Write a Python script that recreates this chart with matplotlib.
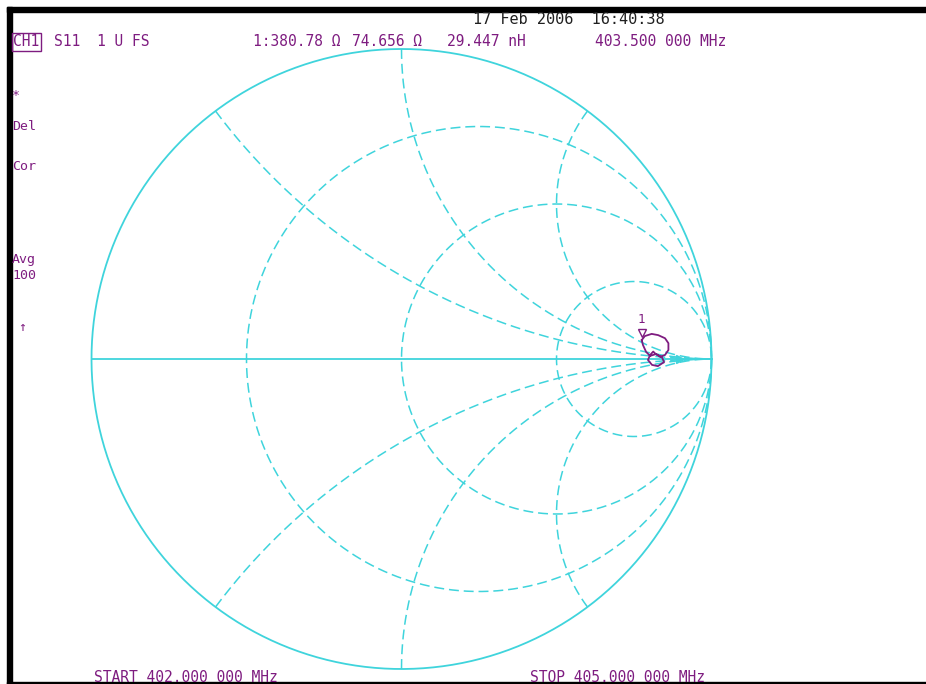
import matplotlib
matplotlib.use('Agg')
import matplotlib.pyplot as plt
import numpy as np

# grid of the smith chart (normalised r and x values)
r_circles = [1/3, 1, 3]
x_arcs = [0.5, 1, 2]

# S11 trace (re, im)
trace_re = [0.775, 0.785, 0.807, 0.828, 0.850, 0.861, 0.861, 0.850, 0.834, 0.818,
            0.812, 0.802, 0.795, 0.808, 0.827, 0.847, 0.840, 0.821, 0.802, 0.789,
            0.779, 0.775]
trace_im = [0.061, 0.074, 0.081, 0.077, 0.067, 0.051, 0.029, 0.013, 0.007, 0.018,
            0.024, 0.013, -0.003, -0.019, -0.023, -0.010, 0.006, 0.016, 0.010, 0.023,
            0.045, 0.061]
marker_re, marker_im = 0.775, 0.061
ref_re, ref_im = 0.898, 0.0

header_date = '17 Feb 2006  16:40:38'
header_items = [('S11', 54), ('1 U FS', 97), ('1:380.78 \u03a9', 253),
                ('74.656 \u03a9', 352), ('29.447 nH', 447), ('403.500 000 MHz', 595)]
side_labels = [('*', 95), ('Del', 126), ('Cor', 167), ('Avg', 259), ('100', 276)]
start_label = 'START 402.000 000 MHz'
stop_label = 'STOP 405.000 000 MHz'

cyan = '#3fd4dc'
purple = '#7e1c80'

W, H = 926, 684
cx, cy, R = 401.5, 359, 310

fig = plt.figure(figsize=(W / 100, H / 100), dpi=100)
fig.patch.set_facecolor('white')
ax = fig.add_axes([0, 0, 1, 1])
ax.set_xlim(-cx / R, (W - cx) / R)
ax.set_ylim((cy - H) / R, cy / R)
ax.axis('off')


def gamma(z):
    return (z - 1) / (z + 1)


dash = (0, (6.5, 3.2))
t = np.linspace(0, 2 * np.pi, 600)
ax.plot(np.cos(t), np.sin(t), color=cyan, lw=1.3)
ax.plot([-1, 1], [0, 0], color=cyan, lw=1.3)

for r in r_circles:
    xs = np.tan(np.linspace(-np.pi / 2 + 1e-4, np.pi / 2 - 1e-4, 800))
    g = gamma(r + 1j * xs)
    ax.plot(g.real, g.imag, color=cyan, lw=1.1, linestyle=dash)

for x in x_arcs:
    rs = np.tan(np.linspace(0, np.pi / 2 - 1e-4, 600))
    for s in (1, -1):
        g = gamma(rs + 1j * s * x)
        ax.plot(g.real, g.imag, color=cyan, lw=1.1, linestyle=dash)

ax.plot(ref_re, ref_im, marker='>', color=cyan, markersize=6)

ax.plot(trace_re, trace_im, color=purple, lw=1.3)
ax.plot(marker_re, marker_im + 0.022, marker='v', markersize=6, mfc='none',
        mec=purple, mew=1.0)
ax.text(marker_re, marker_im + 0.045, '1', color=purple, fontsize=9,
        family='DejaVu Sans Mono', ha='center', va='bottom')

# texts in pixel positions
mono = dict(family='DejaVu Sans Mono', fontsize=10.5, color=purple, va='center')
side = dict(mono, fontsize=9.5)


def px(x, y):
    return x / W, 1 - y / H


fig.text(*px(473, 20), header_date, family='DejaVu Sans Mono', fontsize=11,
         color='#202020', va='center')
fig.text(*px(13, 42), 'CH1', bbox=dict(boxstyle='square,pad=0.1', fc='none',
                                         ec=purple, lw=1), **mono)
for label, x in header_items:
    fig.text(*px(x, 42), label, **mono)
for label, y in side_labels:
    fig.text(*px(12, y), label, **side)
fig.text(*px(18, 327), '\u2191', **side)
fig.text(*px(94, 678), start_label, **mono)
fig.text(*px(530, 678), stop_label, **mono)

# black frame of the screen capture
fig.add_artist(plt.Rectangle(px(7, 12), (W - 7) / W, 5 / H, transform=fig.transFigure,
                             color='black'))
fig.add_artist(plt.Rectangle(px(7, H), 5 / W, (H - 7) / H, transform=fig.transFigure,
                             color='black'))
fig.add_artist(plt.Rectangle(px(7, H), (W - 7) / W, 2 / H, transform=fig.transFigure,
                             color='black'))

fig.savefig('out.png', dpi=100)
